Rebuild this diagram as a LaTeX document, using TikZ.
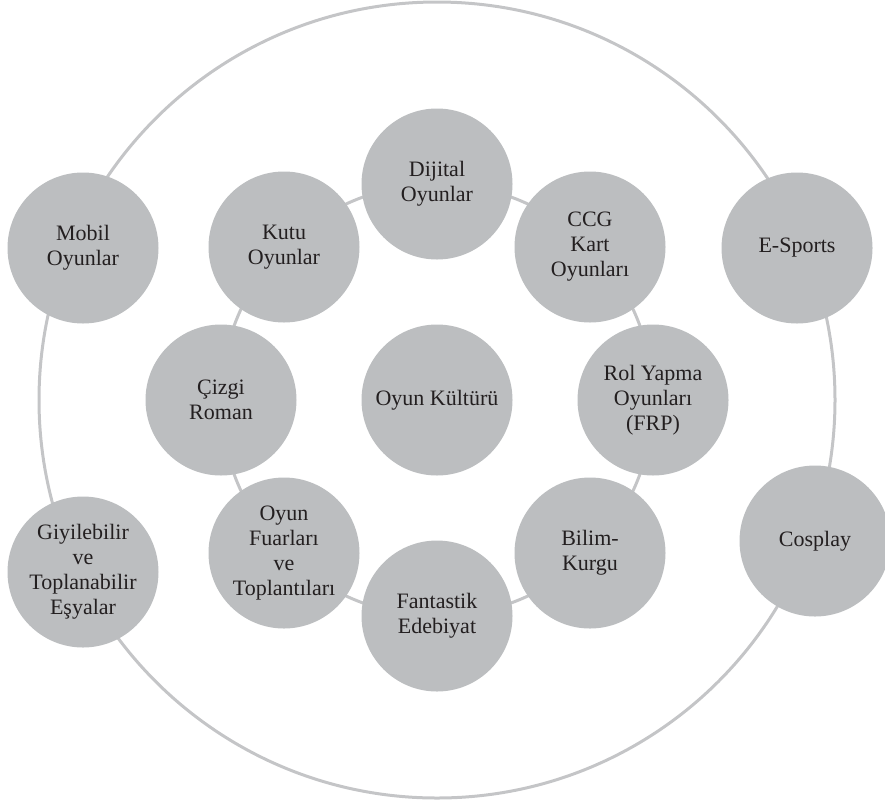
\documentclass[tikz,border=0pt]{standalone}
\usepackage{fontspec}
\setmainfont{Liberation Serif}
\definecolor{bubble}{RGB}{188,190,192}
\definecolor{ringc}{RGB}{196,197,199}
\definecolor{txt}{RGB}{35,31,32}
\begin{document}
\begin{tikzpicture}[x=1pt,y=-1pt,
  bub/.style={circle,fill=bubble,minimum size=151pt,inner sep=0pt,align=center,
    text=txt,font=\fontsize{22}{25}\selectfont},
  ring/.style={draw=ringc,line width=3pt}]
\useasboundingbox (0,0) rectangle (885,801);
\coordinate (ctr) at (437,400);
% rings
\draw[ring] (ctr) circle[radius=398];
\draw[ring] (ctr) circle[radius=216];
% centre
\node[bub] (kultur) at (437,400) {Oyun Kültürü};
% inner ring
\node[bub] (dijital) at (437,184) {Dijital\\Oyunlar};
\node[bub] (ccg) at (590,247) {CCG\\Kart\\Oyunları};
\node[bub] (rol) at (653,400) {Rol Yapma\\Oyunları\\(FRP)};
\node[bub] (bilim) at (590,553) {Bilim-\\Kurgu};
\node[bub] (fant) at (437,616) {Fantastik\\Edebiyat};
\node[bub] (fuar) at (284,553) {Oyun\\Fuarları\\ve\\Toplantıları};
\node[bub] (cizgi) at (221,400) {Çizgi\\Roman};
\node[bub] (kutu) at (284,247) {Kutu\\Oyunlar};
% outer ring
\node[bub] (mobil) at (83,248) {Mobil\\Oyunlar};
\node[bub] (esports) at (797,248) {E-Sports};
\node[bub] (giy) at (83,572) {Giyilebilir\\ve\\Toplanabilir\\Eşyalar};
\node[bub] (cosplay) at (815,541) {Cosplay};
\end{tikzpicture}
\end{document}
